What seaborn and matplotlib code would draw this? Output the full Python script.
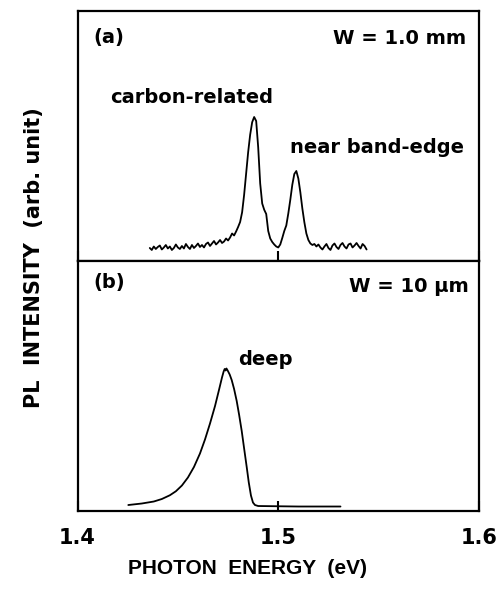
import numpy as np
import pandas as pd
import seaborn as sns
import matplotlib.pyplot as plt

# Panel (a): W = 1.0 mm, PL spectrum (arb. unit, 0-100 panel scale)
energy_a = [1.436, 1.437, 1.438, 1.439, 1.440, 1.441, 1.442, 1.443, 1.444, 1.445,
            1.446, 1.447, 1.448, 1.449, 1.450, 1.451, 1.452, 1.453, 1.454, 1.455,
            1.456, 1.457, 1.458, 1.459, 1.460, 1.461, 1.462, 1.463, 1.464, 1.465,
            1.466, 1.467, 1.468, 1.469, 1.470, 1.471, 1.472, 1.473, 1.474, 1.475,
            1.476, 1.477, 1.478, 1.479, 1.480, 1.481, 1.482, 1.483, 1.484, 1.485,
            1.486, 1.487, 1.488, 1.489, 1.490, 1.491, 1.492, 1.493, 1.494, 1.495,
            1.496, 1.497, 1.498, 1.499, 1.500, 1.501, 1.502, 1.503, 1.504, 1.505,
            1.506, 1.507, 1.508, 1.509, 1.510, 1.511, 1.512, 1.513, 1.514, 1.515,
            1.516, 1.517, 1.518, 1.519, 1.520, 1.521, 1.522, 1.523, 1.524, 1.525,
            1.526, 1.527, 1.528, 1.529, 1.530, 1.531, 1.532, 1.533, 1.534, 1.535,
            1.536, 1.537, 1.538, 1.539, 1.540, 1.541, 1.542, 1.543, 1.544]
intensity_a = [5.2, 4.4, 5.8, 4.8, 5.6, 6.2, 4.6, 5.4, 6.4, 5.0,
               5.8, 4.4, 5.2, 6.6, 5.4, 4.8, 6.0, 5.0, 6.8, 5.6,
               4.8, 6.4, 5.2, 6.0, 7.0, 5.6, 6.4, 5.4, 6.8, 7.4,
               6.0, 7.0, 8.0, 6.6, 7.4, 8.4, 7.2, 7.8, 9.0, 8.2,
               9.4, 11.0, 10.2, 11.8, 13.6, 15.6, 19.5, 26.5, 35.0, 43.5,
               50.5, 55.5, 57.6, 56.0, 45.5, 31.0, 23.0, 20.5, 18.8, 12.0,
               9.0, 7.6, 6.6, 5.8, 5.4, 6.6, 9.2, 12.0, 14.2, 19.0,
               24.5, 30.5, 34.8, 36.0, 33.0, 27.5, 21.0, 15.5, 11.0, 8.4,
               7.0, 6.4, 6.8, 5.8, 6.6, 5.4, 4.6, 5.8, 6.8, 5.2,
               4.4, 6.2, 7.0, 5.6, 4.8, 6.4, 7.2, 5.8, 5.0, 6.6,
               7.0, 5.4, 6.2, 7.2, 6.0, 5.0, 6.8, 6.0, 4.6]

# Panel (b): W = 10 um, deep emission
energy_b = [1.4253, 1.432, 1.438, 1.442, 1.446, 1.449, 1.452, 1.455, 1.458, 1.461,
            1.4635, 1.466, 1.4685, 1.4705, 1.472, 1.4728, 1.4733, 1.4738, 1.4742, 1.4748,
            1.4758, 1.4768, 1.478, 1.4793, 1.4805, 1.4818, 1.483, 1.4843, 1.4853, 1.4864,
            1.4874, 1.4884, 1.490, 1.500, 1.510, 1.520, 1.531]
intensity_b = [2.4, 3.0, 3.8, 4.8, 6.3, 7.9, 10.2, 13.4, 17.6, 23.0,
               28.6, 35.0, 42.0, 48.5, 53.5, 55.8, 56.8, 56.2, 57.0, 56.2,
               54.6, 52.4, 48.8, 44.0, 38.5, 32.0, 25.0, 17.5, 11.5, 6.2,
               3.4, 2.4, 2.0, 1.9, 1.8, 1.8, 1.8]

x_ticks = [1.4, 1.5, 1.6]
x_ticklabels = ['1.4', '1.5', '1.6']

df_a = pd.DataFrame({'energy': energy_a, 'intensity': intensity_a})
df_b = pd.DataFrame({'energy': energy_b, 'intensity': intensity_b})

sns.set_style('white')
plt.rcParams['font.family'] = ['DejaVu Sans']
plt.rcParams['font.weight'] = 'bold'
plt.rcParams['text.color'] = 'black'
plt.rcParams['xtick.color'] = 'black'

fig = plt.figure(figsize=(5.02, 5.89), dpi=100)
ax_a = fig.add_axes([0.1544, 0.5569, 0.7998, 0.4244])
ax_b = fig.add_axes([0.1544, 0.1324, 0.7998, 0.4245])

sns.lineplot(data=df_a, x='energy', y='intensity', ax=ax_a, color='black',
             lw=1.3, estimator=None, sort=False)
sns.lineplot(data=df_b, x='energy', y='intensity', ax=ax_b, color='black',
             lw=1.3, estimator=None, sort=False)

for ax in (ax_a, ax_b):
    ax.set_xlim(1.4, 1.6)
    ax.set_ylim(0, 100)
    ax.set_xlabel('')
    ax.set_ylabel('')
    ax.set_yticks([])
    ax.set_xticks(x_ticks)
    ax.tick_params(axis='x', direction='in', length=7, width=1.5, colors='black',
                   bottom=True, top=False, pad=12, labelsize=15)
    for sp in ax.spines.values():
        sp.set_color('black')
        sp.set_linewidth(1.6)

ax_a.set_xticklabels([])
ax_b.set_xticklabels(x_ticklabels, fontweight='bold', color='black')

# panel annotations
txt = dict(fontsize=14, fontweight='bold', va='center', color='black')
ax_a.text(1.4077, 89.6, '(a)', ha='left', **txt)
ax_a.text(1.5935, 89.2, 'W = 1.0 mm', ha='right', **txt)
ax_a.text(1.4160, 65.6, 'carbon-related', ha='left', **txt)
ax_a.text(1.5059, 45.2, 'near band-edge', ha='left', **txt)
ax_b.text(1.4077, 91.2, '(b)', ha='left', **txt)
ax_b.text(1.5950, 89.6, 'W = 10 \u03bcm', ha='right', **txt)
ax_b.text(1.4800, 60.4, 'deep', ha='left', **txt)

fig.text(248 / 502, 1 - 568 / 589, 'PHOTON  ENERGY  (eV)', fontsize=15, color='black',
         fontweight='bold', ha='center', va='center', family='Liberation Sans')
fig.text(34 / 502, 1 - 258 / 589, 'PL  INTENSITY  (arb. unit)', fontsize=15, color='black',
         fontweight='bold', ha='center', va='center', rotation=90)

fig.savefig('out.png', dpi=100)
